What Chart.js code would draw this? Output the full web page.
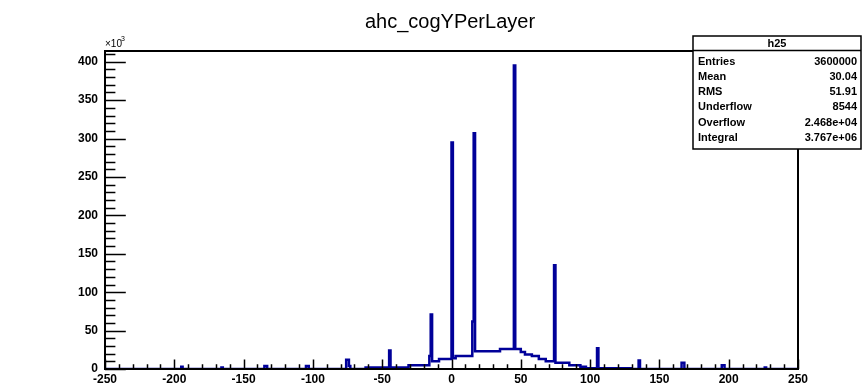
<!DOCTYPE html>
<html>
<head>
<meta charset="utf-8">
<title>ahc_cogYPerLayer</title>
<script src="https://cdn.jsdelivr.net/npm/chart.js@4/dist/chart.umd.min.js"></script>
<style>
  html, body { margin: 0; padding: 0; background: #ffffff; }
  #wrap { width: 863px; height: 390px; position: relative; }
</style>
</head>
<body>
<div id="wrap"><canvas id="chart" width="863" height="390"></canvas></div>
<script>
// histogram: each entry is the low edge of a run of bins
// with the same content, the run lasting up to the next edge
const binEdges = [-250, -195, -194, -166, -165, -135, -133, -105, -103, -76, -74, -73,
  -62, -45, -44, -31, -16, -15, -14, -9, 0, 1, 3, 15, 16, 17, 35, 45, 46, 50, 53,
  58, 63, 68, 74, 75, 85, 93, 97, 105, 106, 130, 135, 136, 166, 168, 195, 197,
  226, 227, 250];
const binCounts = [0, 3000, 0, 2000, 0, 4000, 0, 4000, 0, 12000, 4000, 0,
  2000, 24000, 2000, 5000, 17000, 71000, 10000, 13000, 295000, 14000, 17000, 62000, 307000, 23000, 26000, 395000, 26000, 22000, 19000,
  17000, 13000, 10000, 135000, 8000, 5000, 3000, 1000, 27000, 1000, 0, 11000, 0, 8000, 0, 5000, 0,
  2000, 0, 0];

const xTicks = [-250, -200, -150, -100, -50, 0, 50, 100, 150, 200, 250];
const yTicks = [0, 50000, 100000, 150000, 200000, 250000, 300000, 350000, 400000];

const histTitle = 'ahc_cogYPerLayer';
const statsName = 'h25';
const statsLabels = ['Entries', 'Mean', 'RMS', 'Underflow', 'Overflow', 'Integral'];
const statsValues = ['3600000', '30.04', '51.91', '8544', '2.468e+04', '3.767e+06'];

const points = binEdges.map((x, i) => ({ x: x, y: binCounts[i] }));

const font = '"Liberation Sans", Arial, Helvetica, sans-serif';

// frame, inward ticks, title, exponent and stats box (ROOT look)
const rootDecor = {
  id: 'rootDecor',
  afterDatasetsDraw(chart) {
    const ctx = chart.ctx;
    const a = chart.chartArea;
    const xs = chart.scales.x;
    const ys = chart.scales.y;
    ctx.save();
    ctx.strokeStyle = '#000';
    ctx.lineWidth = 2;
    ctx.strokeRect(a.left, a.top, a.right - a.left, a.bottom - a.top);

    ctx.lineWidth = 1.5;
    ctx.beginPath();
    const xLen = (a.bottom - a.top) * 0.03;
    for (let v = xs.min; v <= xs.max; v += 10) {
      const px = Math.round(xs.getPixelForValue(v)) + 0.5;
      const len = v % 50 === 0 ? xLen : xLen / 2;
      ctx.moveTo(px, a.bottom);
      ctx.lineTo(px, a.bottom - len);
    }
    const yLen = (a.right - a.left) * 0.03;
    for (let v = 0; v <= ys.max; v += 10000) {
      const py = Math.round(ys.getPixelForValue(v)) + 0.5;
      const len = v % 50000 === 0 ? yLen : yLen / 2;
      ctx.moveTo(a.left, py);
      ctx.lineTo(a.left + len, py);
    }
    ctx.stroke();
    ctx.restore();
  },
  afterDraw(chart) {
    const ctx = chart.ctx;
    const a = chart.chartArea;
    ctx.save();
    ctx.fillStyle = '#000';

    ctx.font = '20px ' + font;
    ctx.textAlign = 'center';
    ctx.textBaseline = 'alphabetic';
    ctx.fillText(histTitle, 450, 28);

    // x10^3 above the y axis
    ctx.textAlign = 'left';
    ctx.font = '10px ' + font;
    ctx.fillText('\u00d710', a.left, 47);
    ctx.font = '7px ' + font;
    ctx.fillText('3', a.left + 16, 41);

    // stats box
    const bx = 693, by = 36, bw = 168, bh = 113;
    ctx.fillStyle = '#fff';
    ctx.fillRect(bx, by, bw, bh);
    ctx.strokeStyle = '#000';
    ctx.lineWidth = 1.5;
    ctx.strokeRect(bx, by, bw, bh);
    ctx.beginPath();
    ctx.moveTo(bx, 50.5);
    ctx.lineTo(bx + bw, 50.5);
    ctx.stroke();

    ctx.fillStyle = '#000';
    ctx.font = 'bold 11px ' + font;
    ctx.textAlign = 'center';
    ctx.textBaseline = 'middle';
    ctx.fillText(statsName, bx + bw / 2, 43.5);
    statsLabels.forEach((lab, i) => {
      const y = 61.5 + i * 15.3;
      ctx.textAlign = 'left';
      ctx.fillText(lab, bx + 5, y);
      ctx.textAlign = 'right';
      ctx.fillText(statsValues[i], bx + bw - 4, y);
    });
    ctx.restore();
  }
};

new Chart(document.getElementById('chart'), {
  type: 'line',
  data: {
    datasets: [
      {
        label: statsName,
        data: points,
        stepped: true,
        borderColor: '#000099',
        borderWidth: 2.5,
        pointRadius: 0,
        fill: false,
      },
    ],
  },
  options: {
    responsive: false,
    animation: false,
    layout: { padding: { left: 0, right: 65, top: 51, bottom: 0 } },
    plugins: {
      legend: { display: false },
      title: { display: false },
      tooltip: { enabled: false },
    },
    scales: {
      x: {
        type: 'linear',
        min: -250,
        max: 250,
        grid: { display: false, drawTicks: false },
        border: { display: false },
        afterBuildTicks: (s) => { s.ticks = xTicks.map((v) => ({ value: v })); },
        afterFit: (s) => { s.height = 21; },
        ticks: {
          color: '#000',
          padding: 3,
          maxRotation: 0,
          autoSkip: false,
          font: { family: font, size: 12, weight: 'bold' },
        },
      },
      y: {
        min: 0,
        max: 414000,
        grid: { display: false, drawTicks: false },
        border: { display: false },
        afterBuildTicks: (s) => { s.ticks = yTicks.map((v) => ({ value: v })); },
        afterFit: (s) => { s.width = 105; },
        ticks: {
          color: '#000',
          padding: 7,
          autoSkip: false,
          font: { family: font, size: 12, weight: 'bold' },
          callback: (v) => v / 1000,
        },
      },
    },
  },
  plugins: [rootDecor],
});
</script>
</body>
</html>
